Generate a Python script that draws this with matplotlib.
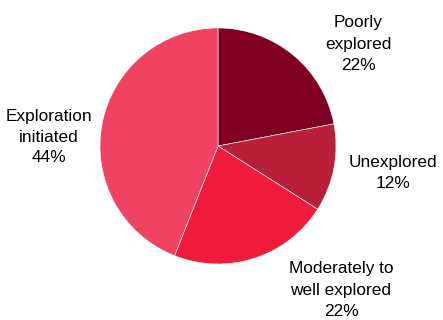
import matplotlib
matplotlib.use("Agg")
import matplotlib.pyplot as plt

categories = ["Poorly\nexplored", "Unexplored", "Moderately to\nwell explored", "Exploration\ninitiated"]
values = [22, 12, 22, 44]
colors = ["#7f0020", "#b8203a", "#ee1c3a", "#f04262"]

plt.rcParams['font.family'] = ['Liberation Sans', 'DejaVu Sans']

fig = plt.figure(figsize=(4.43, 3.2), dpi=100)
ax = fig.add_axes([0, 0, 1, 1])

cx, cy, r = 218, 320 - 146, 118
ax.pie(values, colors=colors, startangle=90, counterclock=False,
       center=(cx, cy), radius=r, frame=True,
       wedgeprops=dict(edgecolor='white', linewidth=0.4))
ax.set_xlim(0, 443)
ax.set_ylim(0, 320)
ax.set_aspect('equal')
ax.axis('off')

label_pos = [(358, 320 - 44), (393, 320 - 173), (341, 320 - 290), (49, 320 - 137)]
for cat, v, (x, y) in zip(categories, values, label_pos):
    ax.text(x, y, f"{cat}\n{v}%", ha='center', va='center', fontsize=12.4,
            linespacing=1.5, color='black')

fig.savefig("out.png", dpi=100)
